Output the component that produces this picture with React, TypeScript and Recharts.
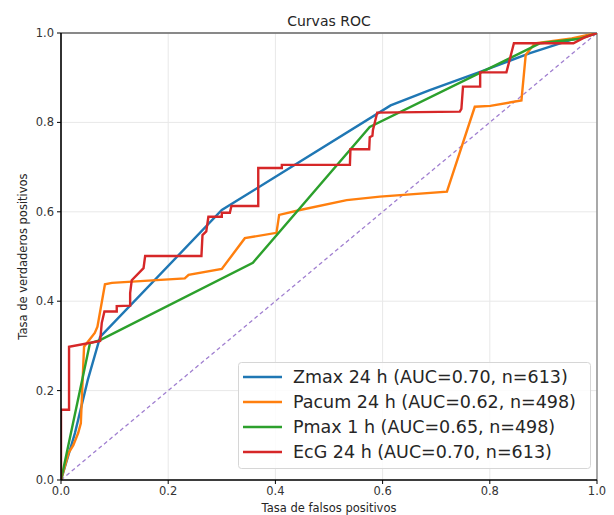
import React from 'react';
import { LineChart, Line, XAxis, YAxis, CartesianGrid, ReferenceLine } from 'recharts';

const title = 'Curvas ROC';
const xLabel = 'Tasa de falsos positivos';
const yLabel = 'Tasa de verdaderos positivos';
const ticks = [0, 0.2, 0.4, 0.6, 0.8, 1.0];

const seriesNames = [
  'Zmax 24 h (AUC=0.70, n=613)',
  'Pacum 24 h (AUC=0.62, n=498)',
  'Pmax 1 h (AUC=0.65, n=498)',
  'EcG 24 h (AUC=0.70, n=613)',
];
const seriesColors = ['#1f77b4', '#ff7f0e', '#2ca02c', '#d62728'];

const zmaxFpr = [0, 0.026, 0.05, 0.073, 0.3, 0.615, 0.688, 0.782, 0.875, 0.95, 1];
const zmaxTpr = [0, 0.105, 0.224, 0.32, 0.604, 0.838, 0.872, 0.913, 0.955, 0.984, 1];

const pacumFpr = [0, 0.014, 0.023, 0.032, 0.037, 0.043, 0.048, 0.063, 0.068, 0.082, 0.095, 0.231, 0.238, 0.3, 0.343, 0.402, 0.407, 0.446, 0.533, 0.595, 0.72, 0.772, 0.801, 0.859, 0.867, 0.884, 0.953, 1];
const pacumTpr = [0, 0.06, 0.078, 0.105, 0.127, 0.298, 0.306, 0.329, 0.343, 0.438, 0.441, 0.451, 0.459, 0.472, 0.541, 0.553, 0.593, 0.604, 0.626, 0.634, 0.645, 0.835, 0.837, 0.849, 0.951, 0.977, 0.988, 1];

const pmaxFpr = [0, 0.054, 0.073, 0.358, 0.576, 0.894, 0.968, 1];
const pmaxTpr = [0, 0.306, 0.313, 0.486, 0.79, 0.977, 0.987, 1];

const ecgFpr = [0, 0, 0.015, 0.015, 0.073, 0.076, 0.081, 0.104, 0.104, 0.129, 0.129, 0.132, 0.154, 0.157, 0.262, 0.264, 0.271, 0.275, 0.3, 0.3, 0.315, 0.318, 0.368, 0.368, 0.412, 0.412, 0.539, 0.54, 0.575, 0.576, 0.581, 0.582, 0.59, 0.744, 0.747, 0.75, 0.782, 0.782, 0.831, 0.845, 0.956, 0.975, 1];
const ecgTpr = [0, 0.157, 0.157, 0.298, 0.311, 0.351, 0.377, 0.377, 0.389, 0.39, 0.418, 0.447, 0.474, 0.501, 0.501, 0.548, 0.556, 0.589, 0.589, 0.598, 0.598, 0.613, 0.613, 0.698, 0.698, 0.705, 0.705, 0.74, 0.74, 0.767, 0.77, 0.783, 0.822, 0.824, 0.83, 0.88, 0.88, 0.912, 0.912, 0.977, 0.977, 0.989, 1];

const diagFpr = [0, 1];
const diagTpr = [0, 1];

const zip = (xs: number[], ys: number[]) => xs.map((x, i) => ({ x, y: ys[i] }));

const seriesData = [
  zip(zmaxFpr, zmaxTpr),
  zip(pacumFpr, pacumTpr),
  zip(pmaxFpr, pmaxTpr),
  zip(ecgFpr, ecgTpr),
];
const diagData = zip(diagFpr, diagTpr);

const FONT = "'DejaVu Sans', sans-serif";
const W = 614;
const H = 515;
const M = { top: 33, right: 17, left: 0, bottom: 0 };
const Y_AXIS_W = 61;
const X_AXIS_H = 35;

const fmt = (v: number) => v.toFixed(1);

const XTitle = (props: any) => {
  const vb = props.viewBox || {};
  const cx = vb.x + vb.width / 2;
  return (
    <text x={cx} y={vb.y + vb.height - 3} textAnchor="middle" fontFamily={FONT} fontSize={11.5} fill="#262626">
      {xLabel}
    </text>
  );
};

const YTitle = (props: any) => {
  const vb = props.viewBox || {};
  const cy = vb.y + vb.height / 2;
  const cx = 23;
  return (
    <text x={cx} y={cy} transform={`rotate(-90 ${cx} ${cy})`} textAnchor="middle" dominantBaseline="central" fontFamily={FONT} fontSize={11.5} fill="#262626">
      {yLabel}
    </text>
  );
};

export default function App() {
  const plotCx = Y_AXIS_W + (W - Y_AXIS_W - M.right) / 2;
  return (
    <div style={{ position: 'absolute', left: 0, top: 0, width: W, height: H, background: '#fff' }}>
      <LineChart width={W} height={H} margin={M}>
        <CartesianGrid stroke="#e8e8e8" strokeWidth={1} />
        <XAxis
          dataKey="x"
          type="number"
          domain={[0, 1]}
          ticks={ticks}
          tickFormatter={fmt}
          height={X_AXIS_H}
          tickSize={4}
          tickMargin={3}
          axisLine={{ stroke: '#000', strokeWidth: 1.6 }}
          tickLine={{ stroke: '#000' }}
          tick={{ fontFamily: FONT, fontSize: 11.5, fill: '#333' }}
          allowDataOverflow
          label={<XTitle />}
        />
        <YAxis
          dataKey="y"
          type="number"
          domain={[0, 1]}
          ticks={ticks}
          tickFormatter={fmt}
          width={Y_AXIS_W}
          tickSize={4}
          tickMargin={3}
          axisLine={{ stroke: '#000', strokeWidth: 1.6 }}
          tickLine={{ stroke: '#000' }}
          tick={{ fontFamily: FONT, fontSize: 11.5, fill: '#333' }}
          allowDataOverflow
          label={<YTitle />}
        />
        <ReferenceLine y={1} stroke="#666" strokeWidth={1.4} />
        <ReferenceLine x={1} stroke="#888" strokeWidth={1.4} />
        <Line
          data={diagData}
          dataKey="y"
          type="linear"
          stroke="#a07fd0"
          strokeWidth={1.3}
          strokeDasharray="4 3"
          dot={false}
          activeDot={false}
          isAnimationActive={false}
          legendType="none"
        />
        {seriesData.map((d, i) => (
          <Line
            key={seriesNames[i]}
            data={d}
            dataKey="y"
            name={seriesNames[i]}
            type="linear"
            stroke={seriesColors[i]}
            strokeWidth={2.4}
            dot={false}
            activeDot={false}
            isAnimationActive={false}
          />
        ))}
      </LineChart>
      <svg width={W} height={H} style={{ position: 'absolute', left: 0, top: 0, pointerEvents: 'none' }}>
        <text x={plotCx} y={26} textAnchor="middle" fontFamily={FONT} fontSize={14} fill="#262626">
          {title}
        </text>
        <rect x={238.5} y={362.5} width={352} height={106} rx={3} fill="#fff" fillOpacity={0.85} stroke="#d6d6d6" />
        {seriesNames.map((n, i) => (
          <g key={n}>
            <line x1={243} x2={282} y1={377 + 25 * i} y2={377 + 25 * i} stroke={seriesColors[i]} strokeWidth={2.4} />
            <text x={293} y={377 + 25 * i} dominantBaseline="central" fontFamily={FONT} fontSize={17.5} fill="#262626">
              {n}
            </text>
          </g>
        ))}
      </svg>
    </div>
  );
}
